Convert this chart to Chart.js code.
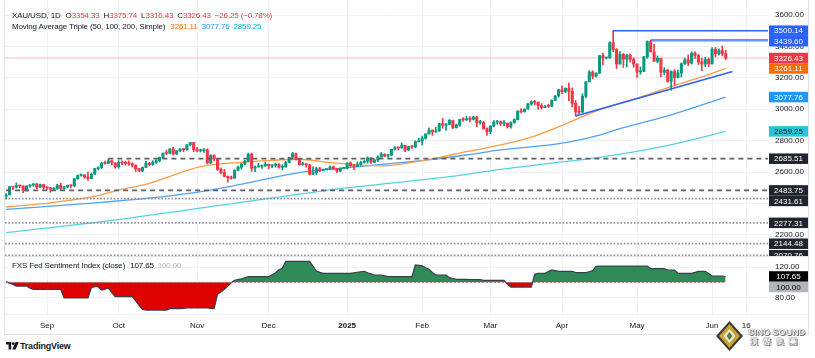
<!DOCTYPE html>
<html><head><meta charset="utf-8">
<script src="https://cdn.jsdelivr.net/npm/chart.js@4.4.1/dist/chart.umd.min.js"></script>
<style>
html,body{margin:0;padding:0;background:#fff;}
body{width:815px;height:358px;position:relative;overflow:hidden;font-family:'Liberation Sans',Arial,sans-serif;}
canvas{position:absolute;left:0;}
#cA{top:0;} #cB{top:256px;}
.t{position:absolute;white-space:pre;font-size:8px;color:#131722;line-height:10px;}
.hd{letter-spacing:-0.15px;}
.ln{position:absolute;background:#E0E3EB;}
</style></head><body>
<canvas id="cA" width="815" height="256"></canvas>
<canvas id="cB" width="815" height="78"></canvas>
<div class="ln" style="left:4px;top:256px;width:804px;height:1px"></div>
<div class="ln" style="left:4px;top:314px;width:804px;height:1px;background:#F0F2F6"></div>
<div class="ln" style="left:4px;top:334px;width:805px;height:1px"></div>
<div class="ln" style="left:808px;top:0;width:1px;height:335px"></div>
<div class="ln" style="left:4px;top:0;width:1px;height:335px"></div>
<div id="h1" class="t hd" style="left:12px;top:11px"></div>
<div id="h2" class="t hd" style="left:12px;top:22px"></div>
<div id="h3" class="t hd" style="left:12px;top:261px"></div>
<svg style="position:absolute;left:6px;top:342px" width="13" height="8" viewBox="0 0 13 8"><path d="M0 0h5.2v7.5h-2.6v-5h-2.6z" fill="#131722"/><circle cx="7.2" cy="1.6" r="1.4" fill="#131722"/><path d="M9.6 0h3.2l-3.3 7.5h-3.2z" fill="#131722"/></svg>
<div class="t" style="left:20px;top:341px;font-size:9px;font-weight:bold;letter-spacing:-0.2px">TradingView</div>
<svg style="position:absolute;left:716px;top:321px" width="27" height="30" viewBox="0 0 27 30"><polygon points="13.5,0 27,15 13.5,30 0,15" fill="#3d3b2c"/><polygon points="13.5,3 24,15 13.5,27 3,15" fill="#c9a23a"/><polygon points="13.5,8 19.5,15 13.5,22 7.5,15" fill="#f4ecd0"/><polygon points="13.5,11 16.5,15 13.5,19 10.5,15" fill="#4f7f3a"/></svg>
<div class="t" style="left:748px;top:327px;font-size:9px;font-weight:bold;color:#f2f2f2;text-shadow:0 0 1px #444,1px 1px 0 #777">SINO SOUND</div>
<div class="t" style="left:750px;top:337px;font-size:8px;font-weight:bold;color:#f2f2f2;letter-spacing:5px;text-shadow:0 0 1px #444,1px 1px 0 #777">漢聲集團</div>
<script>
// ---------------- DATA ----------------
const symbolTitle = 'XAU/USD, 1D';
const maTitle = 'Moving Average Triple (50, 100, 200, Simple)';
const fedTitle = 'FXS Fed Sentiment Index (close)';
const priceTicks = [2200, 2400, 2600, 2800, 3000, 3200, 3400, 3600];
const fedTicks = [80, 120];
const timeTickIdx = [12, 33, 56, 77, 100, 122, 142, 163, 185, 207, 217];
const timeTickLabels = ['Sep', 'Oct', 'Nov', 'Dec', '2025', 'Feb', 'Mar', 'Apr', 'May', 'Jun', '16'];

const open = [
 2447,2456,2507,2504,2514,2512,2484,2512,2518,2525,2504,2521,
 2503,2500,2493,2495,2516,2497,2506,2516,2512,2558,2578,2582,2569,2559,2587,2622,2628,2657,2656,2672,2658,
 2634,2663,2659,2656,2653,2644,2622,2608,2630,2657,2649,2663,2674,2693,2721,2720,2748,2715,2736,2747,2743,2774,2788,
 2743,2736,2737,2743,2659,2706,2685,2618,2598,2573,2565,2562,2612,2631,2651,2670,2715,2625,2633,2638,2640,
 2650,2640,2643,2650,2631,2633,2660,2694,2718,2681,2648,2652,2646,2587,2595,2622,2612,2617,2618,2634,2621,2606,
 2624,2625,2658,2640,2636,2649,2662,2670,2690,2663,2677,2697,2715,2703,2708,2745,2755,2754,2770,2740,2763,2760,2794,
 2798,2815,2843,2867,2856,2861,2908,2898,2905,2929,2883,2899,2935,2933,2939,2936,2951,2915,2916,2876,
 2858,2893,2918,2920,2910,2910,2889,2916,2934,2989,2984,3001,3034,3048,3044,3023,3011,3020,3019,3057,3085,
 3124,3113,3134,3114,3037,2983,2982,3083,3175,3237,3211,3230,3342,3327,3327,3424,3380,3288,3349,3319,3345,3317,
 3288,3238,3241,3334,3431,3365,3306,3325,3236,3249,3178,3240,3202,3231,3290,3315,3294,3357,3342,3301,3288,3317,
 3289,3381,3353,3373,3354.33];
const high = [
 2464,2509,2510,2531,2516,2513,2513,2520,2527,2528,2524,2523,
 2505,2503,2500,2523,2529,2508,2518,2520,2560,2582,2589,2584,2600,2594,2625,2634,2664,2670,2685,2675,2660,
 2673,2672,2670,2672,2660,2647,2625,2633,2669,2662,2673,2678,2697,2722,2740,2749,2758,2737,2750,2749,2775,2790,2790,
 2758,2746,2750,2748,2711,2710,2686,2628,2618,2576,2575,2615,2639,2656,2675,2721,2721,2640,2657,2645,2665,
 2652,2648,2657,2655,2647,2668,2696,2726,2721,2685,2664,2655,2650,2633,2632,2630,2620,2620,2639,2638,2625,2627,
 2627,2660,2665,2649,2664,2670,2673,2697,2692,2681,2703,2725,2716,2714,2746,2763,2759,2786,2772,2765,2770,2800,2817,
 2830,2845,2882,2869,2887,2911,2942,2910,2935,2932,2905,2937,2947,2955,2954,2956,2956,2930,2922,2882,
 2896,2928,2930,2926,2930,2914,2920,2940,2990,3005,3003,3038,3055,3057,3047,3036,3023,3032,3060,3087,3128,
 3149,3136,3167,3136,3055,3020,3099,3176,3245,3245,3232,3343,3357,3330,3430,3500.14,3386,3367,3355,3350,3353,3328,
 3290,3269,3335,3435,3439.60,3414,3340,3325,3265,3255,3245,3252,3250,3295,3325,3346,3366,3365,3350,3325,3330,3326,
 3392,3393,3385,3403,3375.74];
const low = [
 2430,2454,2488,2498,2500,2470,2478,2505,2509,2494,2502,2492,
 2490,2472,2484,2490,2485,2492,2500,2500,2508,2555,2575,2560,2547,2556,2585,2615,2624,2651,2655,2645,2625,
 2624,2648,2644,2643,2633,2605,2604,2602,2628,2639,2643,2656,2666,2689,2710,2717,2708,2711,2729,2730,2739,2767,2730,
 2728,2728,2726,2652,2653,2672,2611,2589,2570,2536,2555,2560,2609,2619,2645,2666,2605,2603,2631,2624,2637,
 2622,2629,2631,2626,2614,2631,2658,2689,2677,2644,2644,2632,2583,2584,2585,2603,2610,2614,2616,2615,2596,2602,
 2620,2621,2637,2615,2634,2643,2657,2657,2656,2660,2667,2695,2697,2693,2705,2740,2741,2752,2730,2738,2750,2755,2792,
 2772,2810,2841,2834,2853,2860,2880,2865,2902,2876,2880,2892,2922,2928,2920,2932,2890,2906,2874,2833,
 2845,2888,2905,2895,2896,2880,2880,2910,2932,2975,2982,3000,3025,3028,3000,3003,3010,3012,3016,3055,3077,
 3100,3105,3054,3015,2957,2970,2980,3073,3174,3194,3205,3228,3283,3320,3324,3366,3260,3287,3266,3269,3300,3267,
 3202,3223,3240,3324,3366,3304,3296,3208,3220,3172,3121,3153,3200,3205,3285,3278,3287,3323,3285,3245,3271,3271,
 3288,3334,3345,3340,3316.43];
const close = [
 2456,2507,2504,2514,2512,2484,2512,2518,2525,2504,2521,2503,
 2500,2493,2495,2516,2497,2506,2516,2512,2558,2578,2582,2569,2559,2587,2622,2628,2657,2656,2672,2658,2634,
 2663,2659,2656,2653,2644,2622,2608,2630,2657,2649,2663,2674,2693,2721,2720,2748,2715,2736,2747,2743,2774,2788,2743,
 2736,2737,2743,2659,2706,2685,2618,2598,2573,2565,2562,2612,2631,2651,2670,2715,2625,2633,2638,2640,2650,
 2640,2643,2650,2631,2633,2660,2694,2718,2681,2648,2652,2646,2587,2595,2622,2612,2617,2618,2634,2621,2606,2624,
 2625,2658,2640,2636,2649,2662,2670,2690,2663,2677,2697,2715,2703,2708,2745,2755,2754,2770,2740,2763,2760,2794,2798,
 2815,2843,2867,2856,2861,2908,2898,2905,2929,2883,2899,2935,2933,2939,2936,2951,2915,2916,2876,2858,
 2893,2918,2920,2910,2911,2889,2916,2934,2989,2984,3001,3034,3048,3044,3023,3011,3020,3019,3057,3085,3124,
 3113,3134,3114,3037,2983,2982,3083,3175,3237,3211,3230,3342,3327,3327,3424,3380,3288,3349,3319,3345,3317,3288,
 3238,3241,3334,3431,3365,3306,3325,3236,3249,3178,3240,3202,3231,3290,3315,3294,3357,3342,3301,3288,3317,3289,
 3381,3353,3373,3352.68,3326.43];

// Moving averages at sample bars
const sma50Idx = [0, 13, 28, 31, 42, 57, 63, 72, 86, 95, 104, 110.5, 118.5, 125, 135, 145, 154.5, 164.5, 174, 186, 196, 205.5, 211];
const sma50Val = [2378, 2405, 2455, 2475, 2529, 2635, 2652, 2667, 2682, 2660, 2645, 2640, 2660, 2684, 2730, 2773, 2826, 2911, 2998, 3078, 3152, 3218, 3261.11];
const sma100Idx = [0, 28, 42, 59, 72, 86, 101, 115.5, 125, 135, 145, 154.5, 164.5, 174, 179, 195.5, 211];
const sma100Val = [2363, 2408, 2434, 2482, 2537, 2597, 2630, 2660, 2681, 2709, 2741, 2762, 2790, 2836, 2870, 2968, 3077.76];
const sma200Idx = [0, 33.5, 60, 86, 98, 130, 145, 159.5, 174, 194.5, 211];
const sma200Val = [2215, 2300, 2380, 2460, 2495, 2571, 2618, 2656, 2694, 2772, 2859.25];

// Drawn levels
const blueLevels = [3500.14, 3439.60];
const blueLevelStart = [178, 189];
const dashedLevels = [2685.51, 2483.75];
const dashedLevelStart = [30, 0];
const dottedLevels = [2431.61, 2277.31, 2144.48, 2070.76];
const trendIdx = [167, 213];
const trendVal = [2957, 3240];

// FXS Fed Sentiment Index (one value per bar)
const fedIndex = [
 101,99,97.4,95.2,95.2,95.2,95.2,92.5,90.9,90.9,90.9,90.9,90.9,90.9,90.9,90.9,90.9,
 79.6,79.6,79.6,79.6,79.6,79.6,79.6,79.6,
 93,94.3,94.3,90,91,92.6,86.5,81.3,81.3,81.3,81.3,81.3,81.3,75.7,70,64.8,
 63.9,63.9,63.9,63.9,63.9,63.9,63.9,65.7,65.7,65.7,65.7,66.2,
 66.6,66.6,66.6,66.6,66.6,66.6,66.6,66.2,65.7,84.4,87.5,91,95,99.5,102.5,103.5,104.5,106,
 107.4,107.4,107.4,107.4,107.4,107.4,107.4,110,112.6,116.5,118.3,
 127.4,127.4,127.4,127.4,127.4,127.4,127.4,127.4,121,114.8,113,
 111.8,111.8,111.8,111.8,111.8,111.8,111.8,111.8,111.8,112.5,113.2,113.8,114.4,112.5,111,109.6,109.6,109.6,108.5,
 107.4,107.4,107.4,107.4,107.4,107.4,107.4,107.4,122.6,122.2,121.5,119,116.9,113,109.6,109.6,109.6,109.6,106.1,105,
 104,104,104,104,103.5,103.5,103.5,103.5,102.6,102.6,102.6,102.6,102.6,102.6,102.6,97.4,
 93.9,93.9,93.9,93.9,93.9,93.9,93.9,110.5,111.8,111.8,111.8,114,116.1,115.2,114.4,114.4,114.4,114.4,114.4,
 112.6,112.6,112.6,112.6,113.8,115.2,120.9,
 121.3,121.3,121.3,121.3,121.3,121.3,121.3,121.3,121.3,121.3,121.3,121.3,121.3,121.3,121.3,
 117.8,117.8,117.8,117.8,117.8,116.1,116.1,116.1,111.8,111.8,111.8,111.8,111.8,113,114.4,114.4,114.4,111.5,
 108.3,108.3,108.3,108.3,107.65];
const fedBase = 100;

// ---------------- VIEW ----------------
const X_MIN = -0.32, X_MAX = 223.4;
const P_PER_PX = 6.364;
const Y_MAX = 3600 + 15 * P_PER_PX, Y_MIN = Y_MAX - 256 * P_PER_PX;
const F_PER_PX = 1.303;
const F_MAX = 100 + 26.35 * F_PER_PX, F_MIN = F_MAX - 58 * F_PER_PX;
const UP = '#089981', DOWN = '#F23645', GRID = '#EFF2F6', TXT = '#131722';
const FONT = "'Liberation Sans', Arial, sans-serif";
Chart.defaults.font.family = FONT;
Chart.defaults.color = TXT;

const n = close.length;
const last = n - 1;
const pts = (ix, vals) => ix.map((x, i) => ({ x: x, y: vals[i] }));
function hline(v, start, color, width, dash, order) {
  return { type: 'line', data: [{ x: start, y: v }, { x: X_MAX, y: v }], borderColor: color, borderWidth: width,
           borderDash: dash || [], pointRadius: 0, order: order, clip: 0 };
}

function boxPlugin(id, items, gap) {
  return { id: id, afterDraw(chart) {
    const ys = chart.scales.y, ctx = chart.ctx;
    const arr = items.map(it => Object.assign({}, it, { py: ys.getPixelForValue(it.value) })).sort((a, b) => a.py - b.py);
    for (let i = 1; i < arr.length; i++) if (arr[i].py - arr[i - 1].py < gap) arr[i].py = arr[i - 1].py + gap;
    ctx.save();
    ctx.font = '8px ' + FONT; ctx.textAlign = 'center'; ctx.textBaseline = 'middle';
    arr.forEach(it => {
      ctx.fillStyle = it.bg; ctx.fillRect(769, it.py - 5.25, 39, 10.5);
      ctx.fillStyle = it.fg; ctx.fillText(it.value.toFixed(2), 788.5, it.py + 0.5);
    });
    ctx.restore();
  } };
}

const xCommon = {
  type: 'linear', min: X_MIN, max: X_MAX, offset: false,
  grid: { color: GRID, drawTicks: false, offset: false, lineWidth: 1 }, border: { display: false },
  afterBuildTicks: a => { a.ticks = timeTickIdx.map(v => ({ value: v })); }
};

// ---------------- MAIN PANE ----------------
const dsMain = [];
dsMain.push({ type: 'line', data: pts(trendIdx, trendVal), borderColor: '#2962FF', borderWidth: 1.6, pointRadius: 0, order: 0 });
dsMain.push(hline(blueLevels[0], blueLevelStart[0], '#2962FF', 1.4, null, 0));
dsMain.push(hline(blueLevels[1], blueLevelStart[1], 'rgba(41,98,255,0.7)', 2.6, null, 0));
dashedLevels.forEach((v, i) => dsMain.push(hline(v, dashedLevelStart[i], '#5D606B', 1.8, [5, 4], 1)));
dottedLevels.forEach(v => dsMain.push(hline(v, X_MIN, '#8C8F99', 1.8, [1.6, 1.8], 1)));
dsMain.push({ type: 'bar', grouped: false, order: 2, barThickness: 2.4, minBarLength: 1, borderWidth: 0,
  data: close.map((c, i) => ({ x: i, y: [open[i], c] })),
  backgroundColor: close.map((c, i) => c >= open[i] ? UP : DOWN) });
dsMain.push({ type: 'bar', grouped: false, order: 3, barThickness: 1, borderWidth: 0,
  data: close.map((c, i) => ({ x: i, y: [low[i], high[i]] })),
  backgroundColor: close.map((c, i) => c >= open[i] ? UP : DOWN) });
dsMain.push({ type: 'line', data: pts(sma50Idx, sma50Val), borderColor: '#FF9B45', borderWidth: 1.3, pointRadius: 0, cubicInterpolationMode: 'monotone', order: 4 });
dsMain.push({ type: 'line', data: pts(sma100Idx, sma100Val), borderColor: '#4FA3F5', borderWidth: 1.3, pointRadius: 0, cubicInterpolationMode: 'monotone', order: 4 });
dsMain.push({ type: 'line', data: pts(sma200Idx, sma200Val), borderColor: '#55D2E4', borderWidth: 1.3, pointRadius: 0, cubicInterpolationMode: 'monotone', order: 4 });
dsMain.push(hline(close[last], X_MIN, 'rgba(242,54,69,0.35)', 1, null, 5));

const mainBoxes = [
  { value: blueLevels[0], bg: '#2962FF', fg: '#fff' },
  { value: blueLevels[1], bg: '#2962FF', fg: '#fff' },
  { value: close[last], bg: '#F23645', fg: '#fff' },
  { value: sma50Val[sma50Val.length - 1], bg: '#FF6D00', fg: '#fff' },
  { value: sma100Val[sma100Val.length - 1], bg: '#2196F3', fg: '#fff' },
  { value: sma200Val[sma200Val.length - 1], bg: '#26C6DA', fg: TXT }
].concat(dashedLevels.concat(dottedLevels).map(v => ({ value: v, bg: '#20242E', fg: '#fff' })));

new Chart(document.getElementById('cA'), {
  type: 'bar',
  data: { datasets: dsMain },
  options: {
    responsive: false, animation: false, devicePixelRatio: 1,
    layout: { padding: { left: 5, right: 0, top: 0, bottom: 0 } },
    plugins: { legend: { display: false }, tooltip: { enabled: false } },
    scales: {
      x: Object.assign({}, xCommon, { ticks: { display: false },
        afterFit: s => { s.height = 0; s.paddingLeft = 0; s.paddingRight = 0; } }),
      y: { type: 'linear', position: 'right', min: Y_MIN, max: Y_MAX,
        grid: { color: GRID, drawTicks: false }, border: { display: false },
        ticks: { padding: 7, color: TXT, font: { size: 8 }, callback: v => v.toFixed(2) },
        afterBuildTicks: a => { a.ticks = priceTicks.map(v => ({ value: v })); },
        afterFit: s => { s.width = 47; s.paddingTop = 0; s.paddingBottom = 0; } }
    }
  },
  plugins: [boxPlugin('mainBoxes', mainBoxes, 10.5)]
});

// ---------------- INDICATOR PANE ----------------
new Chart(document.getElementById('cB'), {
  type: 'line',
  data: { datasets: [
    { data: [{ x: 0, y: fedBase }, { x: last, y: fedBase }], borderColor: 'rgba(120,123,134,0.8)', borderWidth: 1, borderDash: [2, 2], pointRadius: 0, order: 0 },
    { data: fedIndex.map((v, i) => ({ x: i, y: v })), borderColor: '#3A3E48', borderWidth: 1.2, pointRadius: 0, order: 1,
      fill: { target: { value: fedBase }, above: '#2E8B57', below: '#E10000' } }
  ] },
  options: {
    responsive: false, animation: false, devicePixelRatio: 1,
    layout: { padding: { left: 5, right: 0, top: 0, bottom: 0 } },
    plugins: { legend: { display: false }, tooltip: { enabled: false } },
    scales: {
      x: Object.assign({}, xCommon, {
        ticks: { padding: 7, color: TXT, autoSkip: false, maxRotation: 0,
          font: c => ({ size: 8, weight: (c.tick && c.tick.label === '2025') ? 'bold' : 'normal' }),
          callback: v => { const k = timeTickIdx.indexOf(v); return k >= 0 ? timeTickLabels[k] : ''; } },
        afterFit: s => { s.height = 20; s.paddingLeft = 0; s.paddingRight = 0; } }),
      y: { type: 'linear', position: 'right', min: F_MIN, max: F_MAX,
        grid: { color: GRID, drawTicks: false }, border: { display: false },
        ticks: { padding: 7, color: TXT, font: { size: 8 }, callback: v => v.toFixed(2) },
        afterBuildTicks: a => { a.ticks = fedTicks.map(v => ({ value: v })); },
        afterFit: s => { s.width = 47; s.paddingTop = 0; s.paddingBottom = 0; } }
    }
  },
  plugins: [boxPlugin('fedBoxes', [
    { value: fedIndex[last], bg: '#000', fg: '#fff' },
    { value: fedBase, bg: '#B2B5BE', fg: '#000' }], 10.5)]
});

// ---------------- LEGENDS ----------------
const red = DOWN, f2 = v => v.toFixed(2);
const chg = close[last] - close[last - 1];
const pct = chg / close[last - 1] * 100;
const sgn = v => (v < 0 ? '\u2212' : '+') + Math.abs(v).toFixed(2);
const sp = (t, c, ml) => `<span style="color:${c};margin-left:${ml || 0}px">${t}</span>`;
document.getElementById('h1').innerHTML = symbolTitle +
  sp('O', TXT, 5) + sp(f2(open[last]), red) + sp('H', TXT, 4) + sp(f2(high[last]), red) +
  sp('L', TXT, 4) + sp(f2(low[last]), red) + sp('C', TXT, 4) + sp(f2(close[last]), red) +
  sp(sgn(chg) + ' (' + sgn(pct) + '%)', red, 4);
document.getElementById('h2').innerHTML = maTitle +
  sp(f2(sma50Val[sma50Val.length - 1]), '#FF6D00', 5) + sp(f2(sma100Val[sma100Val.length - 1]), '#2196F3', 4) +
  sp(f2(sma200Val[sma200Val.length - 1]), '#00BCD4', 4);
document.getElementById('h3').innerHTML = fedTitle +
  sp(f2(fedIndex[last]), TXT, 5) + sp(f2(fedBase), '#B2B5BE', 4);
</script>
</body></html>
